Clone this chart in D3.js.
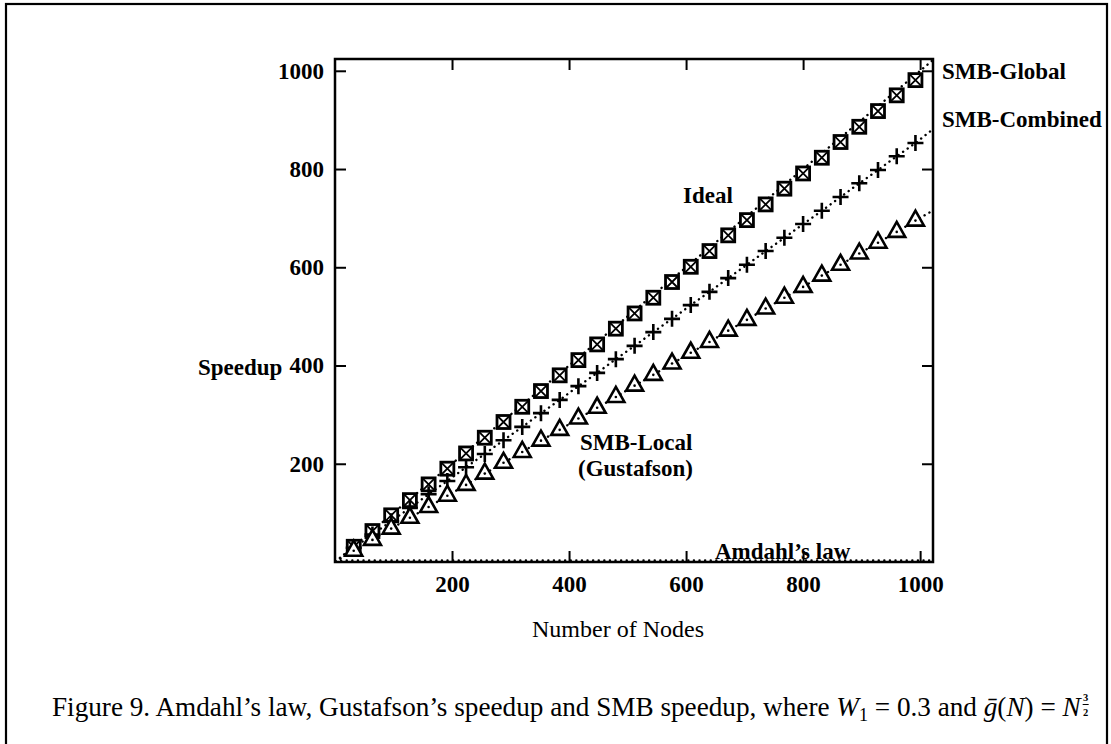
<!DOCTYPE html>
<html><head><meta charset="utf-8">
<script src="https://cdn.jsdelivr.net/npm/d3@7"></script>
<style>
html,body{margin:0;padding:0;background:#fff;}
svg{display:block;}
text{font-family:"Liberation Serif","Times New Roman",serif;fill:#000;}
</style></head>
<body>
<svg id="chart" width="1111" height="744"></svg>
<script>
// ---- data ----
const nodes = [32,64,96,128,160,192,224,256,288,320,352,384,416,448,480,512,544,576,608,640,672,704,736,768,800,832,864,896,928,960,992];
const smbGlobal = [31,63,95,126,158,190,221,253,285,316,348,380,411,443,475,506,538,570,601,633,665,696,728,760,791,823,855,886,918,950,981];
const smbCombined = [29,56,83,110,138,165,193,220,248,275,303,330,358,385,413,440,468,495,523,550,578,605,633,660,688,715,743,771,798,826,853];
const smbLocal = [23,45,68,90,112,135,157,180,202,224,247,269,292,314,336,359,381,404,426,448,471,493,516,538,560,583,605,628,650,672,695];
const lineNodes = [1,1024];
const idealEnds = [1,1024];
const combinedEnds = [1,883];
const localEnds = [1,717];
const amdahlNodes = [1,4,8,16,32,64,128,256,512,1024];
const amdahlValues = [1,2.1,2.6,2.9,3.1,3.2,3.27,3.3,3.32,3.33];
const xTicks = [200,400,600,800,1000];
const yTicks = [200,400,600,800,1000];

const svg = d3.select("#chart");
const x = d3.scaleLinear().domain([0,1022]).range([335,933]);
const y = d3.scaleLinear().domain([0,1024]).range([562,59]);

// outer figure border
svg.append("rect").attr("x",6).attr("y",4).attr("width",1101).attr("height",760)
  .attr("fill","none").attr("stroke","#000").attr("stroke-width",2.2);

// axes with inward ticks
function styleAxis(g){ g.select(".domain").remove(); g.selectAll(".tick line").attr("stroke","#000").attr("stroke-width",2); }
svg.append("g").attr("transform","translate(335,0)")
  .call(d3.axisLeft(y).tickValues(yTicks).tickSize(-11).tickPadding(11).tickFormat(d3.format("d")))
  .call(styleAxis)
  .call(g=>g.selectAll("text").attr("font-family","Liberation Serif").attr("font-weight","bold").attr("font-size",23).attr("fill","#000"));
svg.append("g").attr("transform","translate(933,0)")
  .call(d3.axisRight(y).tickValues(yTicks).tickSize(-11).tickFormat(""))
  .call(styleAxis);
svg.append("g").attr("transform","translate(0,562)")
  .call(d3.axisBottom(x).tickValues(xTicks).tickSize(-11).tickPadding(14).tickFormat(d3.format("d")))
  .call(styleAxis)
  .call(g=>g.selectAll("text").attr("font-family","Liberation Serif").attr("font-weight","bold").attr("font-size",23).attr("fill","#000"));
svg.append("g").attr("transform","translate(0,59)")
  .call(d3.axisTop(x).tickValues(xTicks).tickSize(-11).tickFormat(""))
  .call(styleAxis);

// plot frame
svg.append("rect").attr("x",x(0)).attr("y",y(1024)).attr("width",x(1022)-x(0)).attr("height",y(0)-y(1024))
  .attr("fill","none").attr("stroke","#000").attr("stroke-width",2.5);

// dotted lines
const line = d3.line().x(d=>x(d[0])).y(d=>y(d[1]));
function dotted(data){
  svg.append("path").datum(data).attr("d",line).attr("fill","none").attr("stroke","#000")
    .attr("stroke-width",2.4).attr("stroke-linecap","round").attr("stroke-dasharray","0.1,5.5");
}
dotted(lineNodes.map((n,i)=>[n,idealEnds[i]]));
dotted([[lineNodes[0],combinedEnds[0]]].concat(nodes.map((n,i)=>[n,smbCombined[i]])).concat([[lineNodes[1],combinedEnds[1]]]));
dotted([[lineNodes[0],localEnds[0]]].concat(nodes.map((n,i)=>[n,smbLocal[i]])).concat([[lineNodes[1],localEnds[1]]]));
dotted(amdahlNodes.map((n,i)=>[n,amdahlValues[i]]));

// markers
const sq = 6.5;
const gSq = svg.append("g");
nodes.forEach((n,i)=>{
  const cx=x(n), cy=y(smbGlobal[i]);
  const g=gSq.append("g").attr("transform",`translate(${cx},${cy})`);
  g.append("rect").attr("x",-sq).attr("y",-sq).attr("width",2*sq).attr("height",2*sq).attr("fill","#fff").attr("stroke","#000").attr("stroke-width",2.8);
  g.append("path").attr("d",`M${-sq},${-sq}L${sq},${sq}M${sq},${-sq}L${-sq},${sq}`).attr("stroke","#000").attr("stroke-width",1.8);
});
const gPl = svg.append("g");
nodes.forEach((n,i)=>{
  const cx=x(n), cy=y(smbCombined[i]);
  gPl.append("path").attr("transform",`translate(${cx},${cy})`)
    .attr("d","M-8,0L8,0M0,-8L0,8").attr("stroke","#000").attr("stroke-width",2.6);
});
const gTr = svg.append("g");
nodes.forEach((n,i)=>{
  const cx=x(n), cy=y(smbLocal[i]);
  const g=gTr.append("g").attr("transform",`translate(${cx},${cy})`);
  g.append("path").attr("d","M0,-10L8.5,5L-8.5,5Z").attr("fill","#fff").attr("stroke","#000").attr("stroke-width",2.6).attr("stroke-linejoin","miter");
  g.append("circle").attr("r",1.3).attr("fill","#000");
});

// labels
function label(t,px,py,opts={}){
  return svg.append("text").attr("x",px).attr("y",py).attr("font-size",opts.size||23)
    .attr("font-weight",opts.weight||"bold").attr("text-anchor",opts.anchor||"start").text(t);
}
label("SMB-Global",942,79);
label("SMB-Combined",942,127);
label("Ideal",683,203);
label("SMB-Local",580,450);
label("(Gustafson)",578,476);
label("Amdahl\u2019s law",715,559);
label("Speedup",198,375);
label("Number of Nodes",618,637,{weight:"normal",anchor:"middle",size:24});

// caption
const cap = svg.append("text").attr("x",52).attr("y",716).attr("font-size",27.2);
cap.append("tspan").text("Figure 9. Amdahl\u2019s law, Gustafson\u2019s speedup and SMB speedup, where ");
cap.append("tspan").attr("font-style","italic").text("W");
cap.append("tspan").attr("font-size",18).attr("dy",5).text("1");
cap.append("tspan").attr("dy",-5).text(" = 0.3 and ");
cap.append("tspan").attr("font-style","italic").text("\u1E21");
cap.append("tspan").text("(");
cap.append("tspan").attr("font-style","italic").text("N");
cap.append("tspan").text(") = ");
cap.append("tspan").attr("font-style","italic").text("N");
const capEnd = 52 + cap.node().getComputedTextLength();
svg.append("text").attr("x",capEnd+5).attr("y",701).attr("font-size",10.5).attr("font-weight","bold").attr("text-anchor","middle").text("3");
svg.append("line").attr("x1",capEnd+2).attr("x2",capEnd+8).attr("y1",704.5).attr("y2",704.5).attr("stroke","#000").attr("stroke-width",1);
svg.append("text").attr("x",capEnd+5).attr("y",716).attr("font-size",10.5).attr("font-weight","bold").attr("text-anchor","middle").text("2");
</script>
</body></html>
